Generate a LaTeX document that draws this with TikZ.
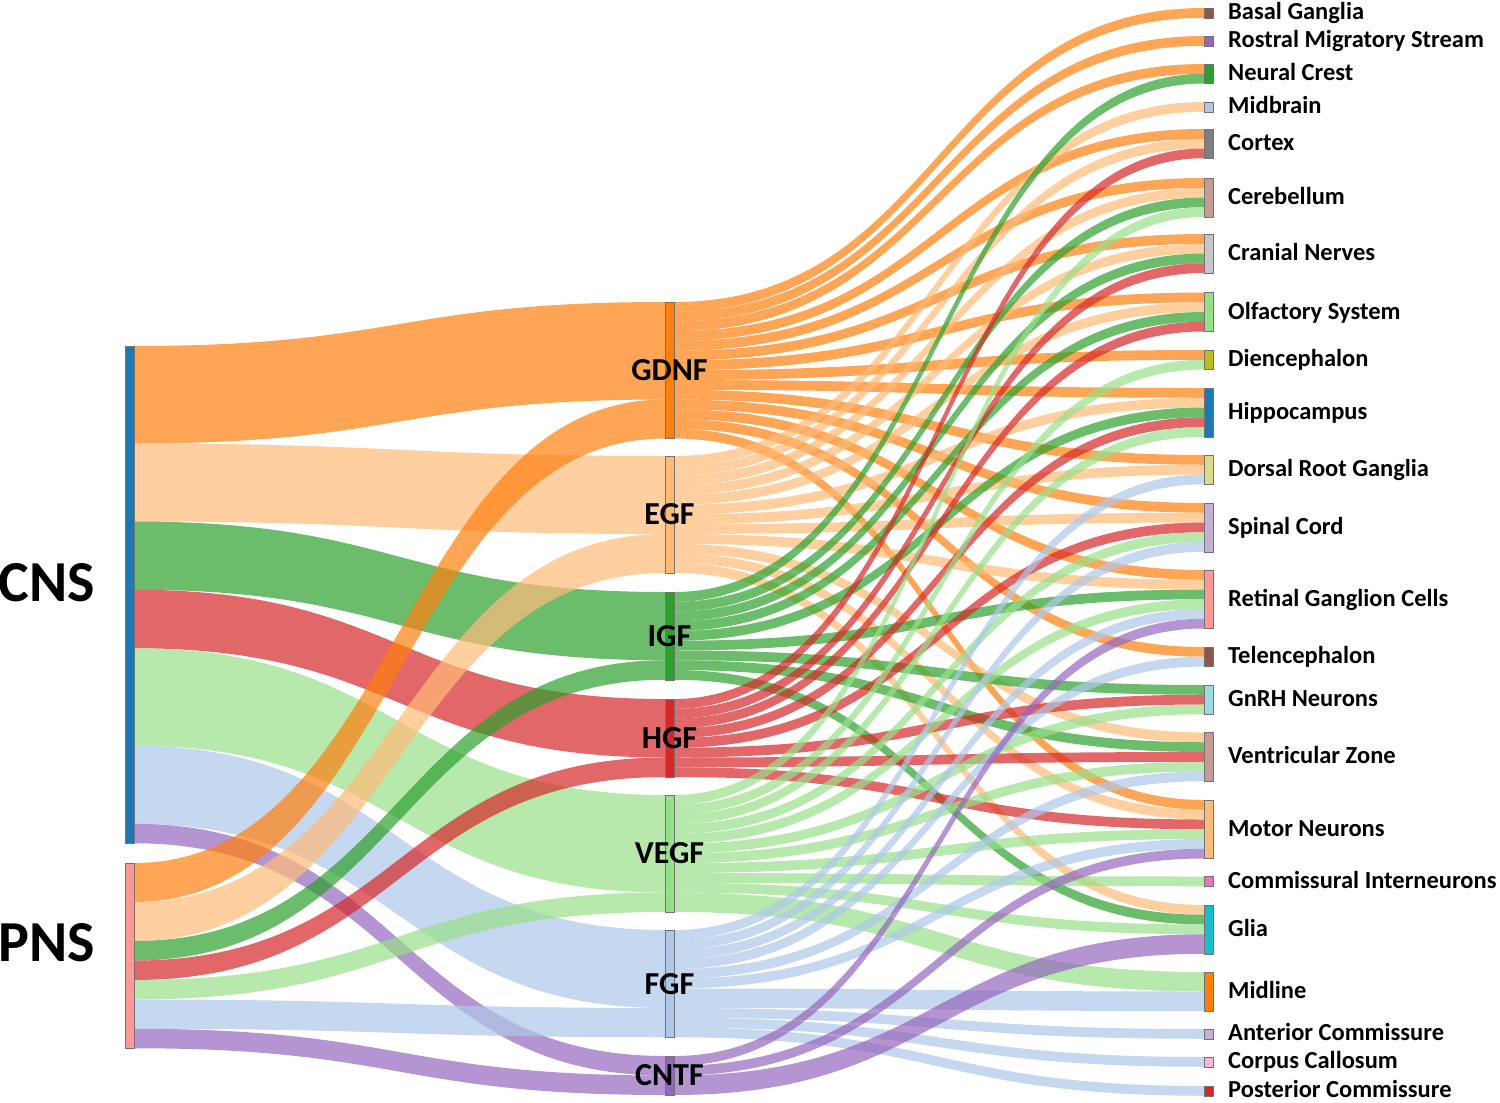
\documentclass[tikz,border=0pt]{standalone}
\usepackage{fontspec}
\setmainfont{Carlito}
\usepackage{tikz}
\usetikzlibrary{positioning}

\pgfdeclarelayer{ribbons}
\pgfsetlayers{ribbons,main}

% factor colours
\definecolor{cgdnf}{HTML}{FF7F0E}
\definecolor{cegf}{HTML}{FFBB78}
\definecolor{cigf}{HTML}{2CA02C}
\definecolor{chgf}{HTML}{D62728}
\definecolor{cvegf}{HTML}{98DF8A}
\definecolor{cfgf}{HTML}{AEC7E8}
\definecolor{ccntf}{HTML}{9467BD}
% region colours
\definecolor{cblue}{HTML}{1F77B4}
\definecolor{cpink}{HTML}{FF9896}
\definecolor{cbrown}{HTML}{8C564B}
\definecolor{cgray}{HTML}{7F7F7F}
\definecolor{ctan}{HTML}{C49C94}
\definecolor{clgray}{HTML}{C7C7C7}
\definecolor{colive}{HTML}{BCBD22}
\definecolor{cpale}{HTML}{DBDB8D}
\definecolor{clav}{HTML}{C5B0D5}
\definecolor{ccyan}{HTML}{9EDAE5}
\definecolor{cmag}{HTML}{E377C2}
\definecolor{cteal}{HTML}{17BECF}
\definecolor{crose}{HTML}{F7B6D2}

\tikzset{
    sbar/.style={draw=black!55, line width=0.4pt, inner sep=0pt, outer sep=0pt, minimum width=9pt, anchor=north west},
    flow/.style={opacity=0.7},
    big/.style={font=\fontsize{58}{60}\selectfont\bfseries, inner sep=0pt},
    factor/.style={font=\fontsize{32}{34}\selectfont\bfseries, inner sep=0pt},
    lab/.style={font=\fontsize{24.5}{27}\selectfont\bfseries, anchor=base west, inner sep=0pt}
}

\def\unitw{9.75}
% bar node: name, x, top, units, colour
\newcommand\flownode[5]{%
  \node[sbar, fill=#5, minimum height=#4*\unitw*1pt] (#1) at (#2,#3) {};%
  \expandafter\xdef\csname outy#1\endcsname{#3}%
  \expandafter\xdef\csname iny#1\endcsname{#3}}
% ribbon: source, target, units, colour
\newcommand\flowlink[4]{%
  \pgfmathsetmacro\ya{\csname outy#1\endcsname}%
  \pgfmathsetmacro\yb{\ya+#3*\unitw}%
  \pgfmathsetmacro\yc{\csname iny#2\endcsname}%
  \pgfmathsetmacro\yd{\yc+#3*\unitw}%
  \expandafter\xdef\csname outy#1\endcsname{\yb}%
  \expandafter\xdef\csname iny#2\endcsname{\yd}%
  \fill[flow, #4] (#1.east |- 0,\ya) .. controls +(265,0) and +(-265,0) .. (#2.west |- 0,\yc)
    -- (#2.west |- 0,\yd) .. controls +(-265,0) and +(265,0) .. (#1.east |- 0,\yb) -- cycle;}

\begin{document}
\begin{tikzpicture}[x=1pt, y=-1pt]
\useasboundingbox (0,0) rectangle (1500,1103);

% sources
\flownode{cns}{125}{346}{51}{cblue}
\flownode{pns}{125}{863}{19}{cpink}
\node[big, left=30pt of cns, yshift=12pt] (cnslab) {CNS};
\node[big, left=30pt of pns, yshift=13pt] (pnslab) {PNS};

% growth factors
\flownode{gdnf}{665}{302}{14}{cgdnf}
\flownode{egf}{665}{456}{12}{cegf}
\flownode{igf}{665}{592}{9}{cigf}
\flownode{hgf}{665}{699}{8}{chgf}
\flownode{vegf}{665}{795}{12}{cvegf}
\flownode{fgf}{665}{930}{11}{cfgf}
\flownode{cntf}{665}{1056}{4}{ccntf}

% regions
\flownode{bg}{1204}{8}{1}{cbrown}
\flownode{rms}{1204}{36}{1}{ccntf}
\flownode{nc}{1204}{64}{2}{cigf}
\flownode{mb}{1204}{102}{1}{cfgf}
\flownode{cortex}{1204}{129}{3}{cgray}
\flownode{cereb}{1204}{178}{4}{ctan}
\flownode{cranial}{1204}{234}{4}{clgray}
\flownode{olf}{1204}{292.5}{4}{cvegf}
\flownode{dien}{1204}{350}{2}{colive}
\flownode{hippo}{1204}{388}{5}{cblue}
\flownode{drg}{1204}{455}{3}{cpale}
\flownode{sc}{1204}{503}{5}{clav}
\flownode{rgc}{1204}{570}{6}{cpink}
\flownode{tel}{1204}{647}{2}{cbrown}
\flownode{gnrh}{1204}{685}{3}{ccyan}
\flownode{vz}{1204}{732.5}{5}{ctan}
\flownode{mn}{1204}{800}{6}{cegf}
\flownode{ci}{1204}{876.5}{1}{cmag}
\flownode{glia}{1204}{905}{5}{cteal}
\flownode{midline}{1204}{972}{4}{cgdnf}
\flownode{ac}{1204}{1029}{1}{clav}
\flownode{cc}{1204}{1057}{1}{crose}
\flownode{pc}{1204}{1086}{1}{chgf}

\begin{pgfonlayer}{ribbons}
% CNS / PNS to factors
\flowlink{cns}{gdnf}{10}{cgdnf}
\flowlink{cns}{egf}{8}{cegf}
\flowlink{cns}{igf}{7}{cigf}
\flowlink{cns}{hgf}{6}{chgf}
\flowlink{cns}{vegf}{10}{cvegf}
\flowlink{cns}{fgf}{8}{cfgf}
\flowlink{cns}{cntf}{2}{ccntf}
\flowlink{pns}{gdnf}{4}{cgdnf}
\flowlink{pns}{egf}{4}{cegf}
\flowlink{pns}{igf}{2}{cigf}
\flowlink{pns}{hgf}{2}{chgf}
\flowlink{pns}{vegf}{2}{cvegf}
\flowlink{pns}{fgf}{3}{cfgf}
\flowlink{pns}{cntf}{2}{ccntf}
% factors to regions
\foreach \t in {bg,rms,nc,cortex,cereb,cranial,olf,dien,hippo,drg,sc,rgc,tel,mn}
  {\flowlink{gdnf}{\t}{1}{cgdnf}}
\foreach \t in {mb,cortex,cereb,cranial,olf,hippo,drg,sc,rgc,vz,mn,glia}
  {\flowlink{egf}{\t}{1}{cegf}}
\foreach \t in {nc,cereb,cranial,olf,hippo,rgc,gnrh,vz,glia}
  {\flowlink{igf}{\t}{1}{cigf}}
\foreach \t in {cortex,cranial,olf,hippo,sc,gnrh,vz,mn}
  {\flowlink{hgf}{\t}{1}{chgf}}
\foreach \t in {cereb,dien,hippo,sc,rgc,gnrh,vz,mn,ci,glia}
  {\flowlink{vegf}{\t}{1}{cvegf}}
\flowlink{vegf}{midline}{2}{cvegf}
\foreach \t in {drg,sc,rgc,tel,vz,mn}
  {\flowlink{fgf}{\t}{1}{cfgf}}
\flowlink{fgf}{midline}{2}{cfgf}
\foreach \t in {ac,cc,pc}
  {\flowlink{fgf}{\t}{1}{cfgf}}
\flowlink{cntf}{rgc}{1}{ccntf}
\flowlink{cntf}{mn}{1}{ccntf}
\flowlink{cntf}{glia}{2}{ccntf}
\end{pgfonlayer}

% factor labels
\node[factor] (gdnflab) at (gdnf) {GDNF};
\node[factor] (egflab) at (egf) {EGF};
\node[factor] (igflab) at (igf) {IGF};
\node[factor] (hgflab) at (hgf) {HGF};
\node[factor] (vegflab) at (vegf) {VEGF};
\node[factor] (fgflab) at (fgf) {FGF};
\node[factor] (cntflab) at (cntf) {CNTF};

% region labels
\node[lab] (bglab) at ([xshift=15pt, yshift=-7pt]bg.east) {Basal Ganglia};
\node[lab] (rmslab) at ([xshift=15pt, yshift=-7pt]rms.east) {Rostral Migratory Stream};
\node[lab] (nclab) at ([xshift=15pt, yshift=-7pt]nc.east) {Neural Crest};
\node[lab] (mblab) at ([xshift=15pt, yshift=-7pt]mb.east) {Midbrain};
\node[lab] (cortexlab) at ([xshift=15pt, yshift=-7pt]cortex.east) {Cortex};
\node[lab] (cereblab) at ([xshift=15pt, yshift=-7pt]cereb.east) {Cerebellum};
\node[lab] (craniallab) at ([xshift=15pt, yshift=-7pt]cranial.east) {Cranial Nerves};
\node[lab] (olflab) at ([xshift=15pt, yshift=-7pt]olf.east) {Olfactory System};
\node[lab] (dienlab) at ([xshift=15pt, yshift=-7pt]dien.east) {Diencephalon};
\node[lab] (hippolab) at ([xshift=15pt, yshift=-7pt]hippo.east) {Hippocampus};
\node[lab] (drglab) at ([xshift=15pt, yshift=-7pt]drg.east) {Dorsal Root Ganglia};
\node[lab] (sclab) at ([xshift=15pt, yshift=-7pt]sc.east) {Spinal Cord};
\node[lab] (rgclab) at ([xshift=15pt, yshift=-7pt]rgc.east) {Retinal Ganglion Cells};
\node[lab] (tellab) at ([xshift=15pt, yshift=-7pt]tel.east) {Telencephalon};
\node[lab] (gnrhlab) at ([xshift=15pt, yshift=-7pt]gnrh.east) {GnRH Neurons};
\node[lab] (vzlab) at ([xshift=15pt, yshift=-7pt]vz.east) {Ventricular Zone};
\node[lab] (mnlab) at ([xshift=15pt, yshift=-7pt]mn.east) {Motor Neurons};
\node[lab] (cilab) at ([xshift=15pt, yshift=-7pt]ci.east) {Commissural Interneurons};
\node[lab] (glialab) at ([xshift=15pt, yshift=-7pt]glia.east) {Glia};
\node[lab] (midlinelab) at ([xshift=15pt, yshift=-7pt]midline.east) {Midline};
\node[lab] (aclab) at ([xshift=15pt, yshift=-7pt]ac.east) {Anterior Commissure};
\node[lab] (cclab) at ([xshift=15pt, yshift=-7pt]cc.east) {Corpus Callosum};
\node[lab] (pclab) at ([xshift=15pt, yshift=-7pt]pc.east) {Posterior Commissure};
\end{tikzpicture}
\end{document}
